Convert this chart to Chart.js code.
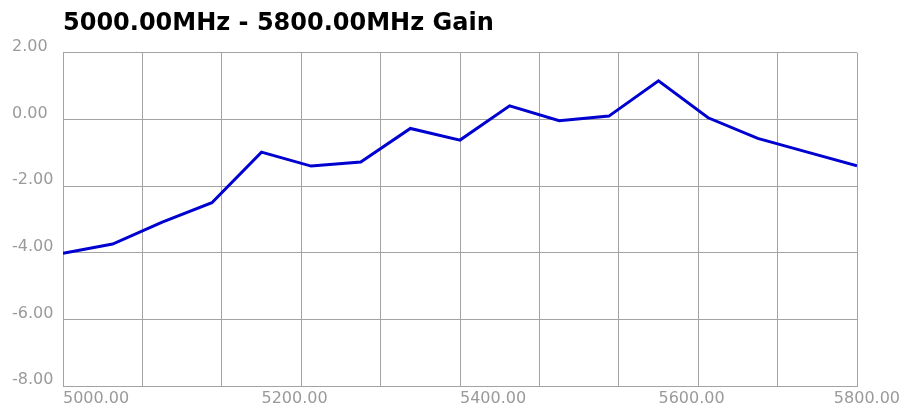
<!DOCTYPE html>
<html>
<head>
<meta charset="utf-8">
<script src="https://cdn.jsdelivr.net/npm/chart.js@4.4.1/dist/chart.umd.min.js"></script>
<style>
  body { margin: 0; background: #fff; }
  #wrap { width: 906px; height: 410px; }
</style>
</head>
<body>
<div id="wrap"><canvas id="gain"></canvas></div>
<script>
// Frequenz (MHz) und Gain (dB)
const freqs = [5000, 5050, 5100, 5150, 5200, 5250, 5300, 5350, 5400,
               5450, 5500, 5550, 5600, 5650, 5700, 5750, 5800];
const gain = [-4.02, -3.74, -3.08, -2.50, -0.98, -1.40, -1.28, -0.27, -0.62,
              0.41, -0.04, 0.10, 1.16, 0.05, -0.57, -0.98, -1.39];

const xMin = 5000, xMax = 5800;
const gridStep = 80;     // vertical grid lines
const labelStep = 200;   // x tick labels
const yMin = -8, yMax = 2, yStep = 2;

const gridColor = '#a3a3a3';
const textColor = '#9a9a9a';
const tickFont = { family: 'DejaVu Sans', size: 16 };

// last x label is pushed back inside the canvas
const keepLabelsInside = {
  id: 'keepLabelsInside',
  beforeDraw(chart) {
    const scale = chart.scales.x;
    const ctx = chart.ctx;
    scale.getLabelItems(chart.chartArea).forEach(item => {
      if (!item.label) return;
      ctx.save();
      ctx.font = item.font.string;
      const w = ctx.measureText(item.label).width;
      ctx.restore();
      const over = item.options.translation[0] + w - (chart.width - 6);
      if (over > 0) item.options.translation[0] -= over;
    });
  }
};

const ctx = document.getElementById('gain').getContext('2d');
new Chart(ctx, {
  type: 'line',
  data: {
    datasets: [{
      label: 'Gain',
      data: freqs.map((f, i) => ({ x: f, y: gain[i] })),
      borderColor: '#0000d0',
      borderWidth: 3,
      pointRadius: 0,
      tension: 0,
      fill: false
    }]
  },
  options: {
    responsive: true,
    maintainAspectRatio: false,
    animation: false,
    layout: { padding: { left: 12, right: 49, top: 0, bottom: 0 } },
    plugins: {
      legend: { display: false },
      tooltip: { enabled: false },
      title: {
        display: true,
        text: '5000.00MHz - 5800.00MHz Gain',
        align: 'start',
        fullSize: false,
        color: '#000',
        font: { family: 'DejaVu Sans', size: 24, weight: 'bold' },
        padding: { top: 9, bottom: 15 }
      }
    },
    scales: {
      x: {
        type: 'linear',
        min: xMin,
        max: xMax,
        afterBuildTicks: scale => {
          const vals = new Set();
          for (let v = xMin; v <= xMax; v += gridStep) vals.add(v);
          for (let v = xMin; v <= xMax; v += labelStep) vals.add(v);
          scale.ticks = [...vals].sort((a, b) => a - b).map(v => ({ value: v }));
        },
        afterFit: scale => {
          scale.height = 24;
          scale.paddingLeft = 0;
          scale.paddingRight = 0;
        },
        grid: {
          color: c => (c.tick && (c.tick.value - xMin) % gridStep === 0) ? gridColor : 'transparent',
          drawTicks: false
        },
        border: { color: gridColor },
        ticks: {
          align: 'start',
          autoSkip: false,
          maxRotation: 0,
          padding: 3,
          color: textColor,
          font: tickFont,
          callback: v => ((v - xMin) % labelStep === 0) ? v.toFixed(2) : ''
        }
      },
      y: {
        min: yMin,
        max: yMax,
        afterFit: scale => {
          scale.width = 51;
          scale.paddingTop = 0;
          scale.paddingBottom = 0;
        },
        grid: { color: gridColor, drawTicks: false },
        border: { color: gridColor },
        ticks: {
          stepSize: yStep,
          crossAlign: 'far',
          labelOffset: -6,
          color: textColor,
          font: tickFont,
          callback: v => v.toFixed(2)
        }
      }
    }
  },
  plugins: [keepLabelsInside]
});
</script>
</body>
</html>
